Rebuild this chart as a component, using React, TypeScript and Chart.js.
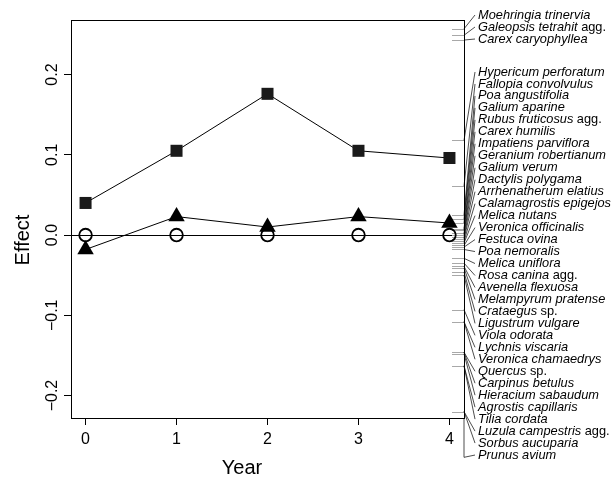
import React, { useEffect, useRef } from "react";
import { Chart, registerables } from "chart.js";

Chart.register(...registerables);

// ---------- data ----------
const years = [0, 1, 2, 3, 4];
const xTickLabels = ["0", "1", "2", "3", "4"];
const squareEffects = [0.04, 0.105, 0.176, 0.105, 0.096];
const triangleEffects = [-0.018, 0.023, 0.01, 0.023, 0.015];
const circleEffects = [0, 0, 0, 0, 0];
const yTickValues = [-0.2, -0.1, 0, 0.1, 0.2];
const yTickLabels = ["\u22120.2", "\u22120.1", "0.0", "0.1", "0.2"];

const speciesNames = [
  "Moehringia trinervia",
  "Galeopsis tetrahit",
  "Carex caryophyllea",
  "Hypericum perforatum",
  "Fallopia convolvulus",
  "Poa angustifolia",
  "Galium aparine",
  "Rubus fruticosus",
  "Carex humilis",
  "Impatiens parviflora",
  "Geranium robertianum",
  "Galium verum",
  "Dactylis polygama",
  "Arrhenatherum elatius",
  "Calamagrostis epigejos",
  "Melica nutans",
  "Veronica officinalis",
  "Festuca ovina",
  "Poa nemoralis",
  "Melica uniflora",
  "Rosa canina",
  "Avenella flexuosa",
  "Melampyrum pratense",
  "Crataegus",
  "Ligustrum vulgare",
  "Viola odorata",
  "Lychnis viscaria",
  "Veronica chamaedrys",
  "Quercus",
  "Carpinus betulus",
  "Hieracium sabaudum",
  "Agrostis capillaris",
  "Tilia cordata",
  "Luzula campestris",
  "Sorbus aucuparia",
  "Prunus avium",
];
const speciesSuffixes = [
  "", " agg.", "", "", "", "", "", " agg.", "", "", "", "", "", "", "", "", "", "",
  "", "", " agg.", "", "", " sp.", "", "", "", "", " sp.", "", "", "", "", " agg.", "", "",
];
const speciesEffects = [
  0.257, 0.249, 0.243, 0.118, 0.061, 0.025, 0.02, 0.015, 0.008, 0.006, 0.002, 0.0,
  -0.003, -0.005, -0.008, -0.01, -0.013, -0.015, -0.018, -0.029, -0.035, -0.039,
  -0.041, -0.046, -0.05, -0.093, -0.108, -0.108, -0.146, -0.146, -0.148, -0.163,
  -0.163, -0.22, -0.22, -0.277,
];
const speciesGroup = [
  0, 0, 0, 1, 1, 1, 1, 1, 1, 1, 1, 1, 1, 1, 1, 1, 1, 1, 1, 1, 1, 1, 1, 1, 1, 1, 1, 1,
  1, 1, 1, 1, 1, 1, 1, 1,
];

const FONT = "'Liberation Sans', Arial, Helvetica, sans-serif";

const overlayPlugin = {
  id: "overlay",
  beforeDatasetsDraw(chart: any) {
    const { ctx, chartArea, scales } = chart;
    const y = scales.y;
    ctx.save();
    ctx.lineWidth = 1;
    // zero reference line
    ctx.strokeStyle = "#000";
    const y0 = Math.round(y.getPixelForValue(0)) + 0.5;
    ctx.beginPath();
    ctx.moveTo(chartArea.left, y0);
    ctx.lineTo(chartArea.right, y0);
    ctx.stroke();
    // rug of species effects
    ctx.strokeStyle = "#a8a8a8";
    speciesEffects.forEach((v) => {
      if (v < y.min || v > y.max) return;
      const py = Math.round(y.getPixelForValue(v)) + 0.5;
      ctx.beginPath();
      ctx.moveTo(chartArea.right - 12, py);
      ctx.lineTo(chartArea.right, py);
      ctx.stroke();
    });
    ctx.restore();
  },
  afterDraw(chart: any) {
    const { ctx, chartArea, scales } = chart;
    const y = scales.y;
    ctx.save();
    // box
    ctx.strokeStyle = "#000";
    ctx.lineWidth = 1;
    ctx.strokeRect(
      Math.round(chartArea.left) + 0.5,
      Math.round(chartArea.top) + 0.5,
      Math.round(chartArea.right - chartArea.left),
      Math.round(chartArea.bottom - chartArea.top)
    );
    // y tick labels (rotated)
    ctx.fillStyle = "#000";
    ctx.font = `16px ${FONT}`;
    ctx.textAlign = "center";
    ctx.textBaseline = "alphabetic";
    y.ticks.forEach((t: any, i: number) => {
      const py = y.getPixelForValue(t.value);
      ctx.save();
      ctx.translate(chartArea.left - 14, py);
      ctx.rotate(-Math.PI / 2);
      ctx.fillText(yTickLabels[i], 0, 0);
      ctx.restore();
    });
    // axis titles
    ctx.font = `20px ${FONT}`;
    ctx.save();
    ctx.translate(29, 240);
    ctx.rotate(-Math.PI / 2);
    ctx.fillText("Effect", 0, 0);
    ctx.restore();
    ctx.fillText("Year", 242, 474);

    // species labels with connectors
    const axisX = chartArea.right;
    const endX = chartArea.right + 11;
    const textX = chartArea.right + 14;
    let g0 = 0;
    let g1 = 0;
    ctx.lineWidth = 0.7;
    speciesNames.forEach((name, i) => {
      let ly: number;
      if (speciesGroup[i] === 0) {
        ly = chartArea.top - 5 + 12 * g0;
        g0++;
      } else {
        ly = chartArea.top + 52 + 11.97 * g1;
        g1++;
      }
      const ry = y.getPixelForValue(speciesEffects[i]);
      ctx.strokeStyle = "#000";
      ctx.beginPath();
      if (ry > chartArea.bottom) {
        ctx.moveTo(axisX, chartArea.bottom);
        ctx.lineTo(axisX, ry);
      } else {
        ctx.moveTo(axisX, ry);
      }
      ctx.lineTo(endX, ly);
      ctx.stroke();
      ctx.textAlign = "left";
      ctx.textBaseline = "middle";
      ctx.font = `italic 12.8px ${FONT}`;
      ctx.fillText(name, textX, ly);
      if (speciesSuffixes[i]) {
        const w = ctx.measureText(name).width;
        ctx.font = `12.8px ${FONT}`;
        ctx.fillText(speciesSuffixes[i], textX + w, ly);
      }
    });
    ctx.restore();
  },
};

export default function App() {
  const canvasRef = useRef<HTMLCanvasElement | null>(null);

  useEffect(() => {
    const canvas = canvasRef.current;
    if (!canvas) return;
    const toPts = (vals: number[]) => years.map((x, i) => ({ x, y: vals[i] }));
    const chart = new Chart(canvas, {
      type: "scatter",
      data: {
        datasets: [
          {
            data: toPts(squareEffects),
            showLine: true,
            borderColor: "#000",
            borderWidth: 1,
            pointStyle: "rect",
            pointRadius: 8.5,
            pointBackgroundColor: "#1a1a1a",
            pointBorderWidth: 0,
          },
          {
            data: toPts(triangleEffects),
            showLine: true,
            borderColor: "#000",
            borderWidth: 1,
            pointStyle: "triangle",
            pointRadius: 9.5,
            pointBackgroundColor: "#000",
            pointBorderWidth: 0,
          },
          {
            data: toPts(circleEffects),
            showLine: false,
            pointStyle: "circle",
            pointRadius: 6.3,
            pointBackgroundColor: "rgba(0,0,0,0)",
            pointBorderColor: "#000",
            pointBorderWidth: 1.8,
          },
        ],
      },
      options: {
        responsive: false,
        animation: false,
        events: [],
        layout: { padding: { left: 0, top: 20, right: 148, bottom: 0 } },
        plugins: { legend: { display: false }, tooltip: { enabled: false }, title: { display: false } },
        scales: {
          x: {
            type: "linear",
            min: -0.16,
            max: 4.16,
            afterBuildTicks: (s: any) => {
              s.ticks = years.map((v) => ({ value: v }));
            },
            afterFit: (s: any) => {
              s.height = 61;
            },
            grid: {
              display: true,
              drawOnChartArea: false,
              drawTicks: true,
              tickLength: 7,
              color: "#000",
              lineWidth: 1,
            },
            border: { display: false },
            ticks: {
              display: true,
              padding: 5,
              color: "#000",
              font: { size: 16, family: FONT },
              callback: (_v: any, i: number) => xTickLabels[i],
            },
          },
          y: {
            type: "linear",
            min: -0.228,
            max: 0.268,
            afterBuildTicks: (s: any) => {
              s.ticks = yTickValues.map((v) => ({ value: v }));
            },
            afterFit: (s: any) => {
              s.width = 71;
            },
            grid: {
              display: true,
              drawOnChartArea: false,
              drawTicks: true,
              tickLength: 7,
              color: "#000",
              lineWidth: 1,
            },
            border: { display: false },
            ticks: { display: false },
          },
        },
      },
      plugins: [overlayPlugin],
    } as any);
    return () => chart.destroy();
  }, []);

  return (
    <div style={{ position: "absolute", left: 0, top: 0, width: 612, height: 479, background: "#fff" }}>
      <canvas ref={canvasRef} width={612} height={479} style={{ display: "block" }} />
    </div>
  );
}
